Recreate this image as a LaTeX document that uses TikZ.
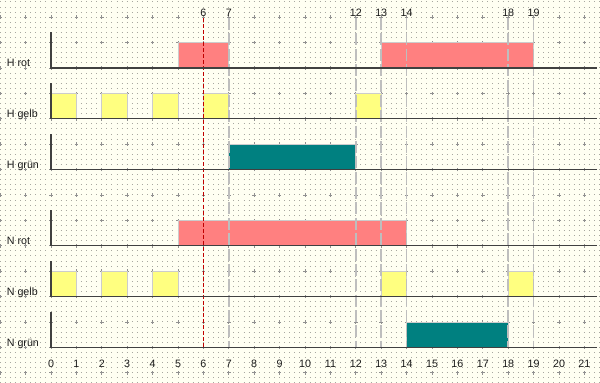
\documentclass[tikz,border=0pt]{standalone}
\usepackage{fontspec}
\setmainfont{Liberation Sans}
\usepackage{xcolor}
\usetikzlibrary{positioning}
\definecolor{bgcream}{HTML}{FFFFF2}
\definecolor{dotgray}{HTML}{A8A8A0}
\definecolor{plusgray}{HTML}{909090}
\definecolor{rotbar}{HTML}{FF8080}
\definecolor{gelbbar}{HTML}{FFFF80}
\definecolor{gruenbar}{HTML}{008080}
\definecolor{markred}{HTML}{C00000}
\definecolor{guidegray}{HTML}{BEBEBE}
\tikzset{bar/.style={draw=gray!40,line width=0.6pt},
  axisline/.style={draw=black!75,line width=1pt},
  tick/.style={font=\fontsize{8}{9.5}\selectfont,text=black!90,inner sep=1pt},
  guide/.style={draw=guidegray,line width=1.2pt,dash pattern=on 9pt off 2.5pt}}

\begin{document}
\begin{tikzpicture}[x=19pt,y=19pt,
  lab/.style={font=\fontsize{8}{9.5}\selectfont,text=black!90,anchor=base west,inner sep=0pt},
  markline/.style={draw=markred,line width=1pt,dash pattern=on 3pt off 1.5pt}]
\useasboundingbox[fill=bgcream] (-2.008,-12.40) rectangle (21.614,2.677);
% background grid
\foreach \g in {-62,...,13}
  \draw[dotgray,line width=0.75pt,dash pattern=on 0.75pt off 3.05pt,dash phase=0.375pt] (-2,\g/5) -- (21.6,\g/5);
\foreach \gx in {-2,...,21}
  \foreach \gy in {-12,...,2}
    \draw[plusgray,line width=0.5pt] (\gx,\gy) +(-1.3pt,0) -- +(1.3pt,0) +(0,-1.3pt) -- +(0,1.3pt);
% bars
\fill[rotbar,bar] (5,0) rectangle (7,1);
\fill[rotbar,bar] (13,0) rectangle (19,1);
\foreach \b in {0,2,4,6,12} \fill[gelbbar,bar] (\b,-2) rectangle ++(1,1);
\fill[gruenbar,bar] (7,-4) rectangle (12,-3);
\fill[rotbar,bar] (5,-7) rectangle (14,-6);
\foreach \b in {0,2,4,13,18} \fill[gelbbar,bar] (\b,-9) rectangle ++(1,1);
\fill[gruenbar,bar] (14,-11) rectangle (18,-10);
% markers
\coordinate (endN) at (0,-11);
\foreach \m in {6,7,12,13,14,18,19} \node[tick] (m\m) at (\m,2.18) {\m};
\foreach \m in {7,12,13,14,18,19} \draw[guide] (m\m.south) -- (m\m.south |- endN);
\draw[markline] (m6.south) -- (m6.south |- endN);
% rows
\foreach \yy/\name [count=\k] in {0/H rot,-2/H gelb,-4/H grün,-7/N rot,-9/N gelb,-11/N grün}{
  \node[lab] (row\k) at (-1.75,\yy+0.05) {\name};
  \draw[axisline] (0,\yy+1.4) -- (0,\yy) -- (21.5,\yy);
}
\foreach \t in {0,...,21} \node[tick] (t\t) at (\t,-11.63) {\t};
\end{tikzpicture}
\end{document}
